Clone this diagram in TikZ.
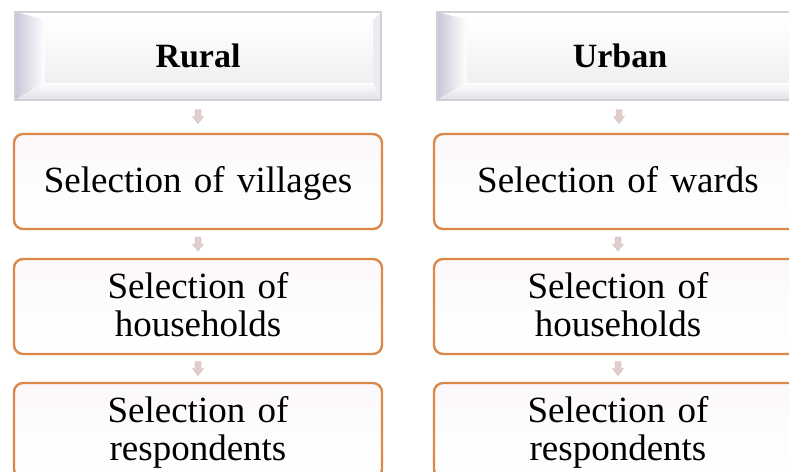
\documentclass[tikz,border=0pt]{standalone}
\usepackage{fontspec}
\setmainfont{Liberation Serif}
\usetikzlibrary{calc}
\definecolor{boxborder}{RGB}{218,136,76}
\definecolor{boxfill}{RGB}{252,248,250}
\definecolor{hdrline}{RGB}{208,208,214}
\definecolor{hdrleft}{RGB}{200,198,215}
\definecolor{hdrbottom}{RGB}{224,224,230}
\definecolor{arrowfill}{RGB}{226,204,204}
\definecolor{arrowline}{RGB}{205,185,185}
\tikzset{
  stagebox/.style={draw=boxborder, line width=2.4pt, rounded corners=9pt,
    top color=boxfill, bottom color=white, minimum width=368pt, minimum height=95pt,
    text width=360pt, align=center, inner sep=0pt,
    font=\fontsize{37}{38}\selectfont},
  stagetext/.style={text width=360pt, align=center, inner sep=0pt, yshift=-3pt,
    font=\fontsize{37}{38}\selectfont},
  hdrbox/.style={minimum width=366pt, minimum height=88pt, inner sep=0pt},
  hdrtext/.style={font=\fontsize{34}{36}\selectfont\bfseries, inner sep=0pt},
  downarrow/.style={fill=arrowfill, draw=arrowline, line width=0.4pt}
}
\newcommand{\mybevel}[1]{%
  \fill[white] (#1.north west) rectangle (#1.south east);
  \shade[left color=hdrleft, right color=white]
    (#1.north west) -- ($(#1.north west)+(30pt,-8pt)$) -- ($(#1.south west)+(30pt,18pt)$) -- (#1.south west) -- cycle;
  \shade[top color=white, bottom color=hdrbottom]
    (#1.south west) -- ($(#1.south west)+(30pt,18pt)$) -- ($(#1.south east)+(-8pt,18pt)$) -- (#1.south east) -- cycle;
  \fill[hdrbottom!60!white]
    (#1.south east) -- ($(#1.south east)+(-8pt,18pt)$) -- ($(#1.north east)+(-8pt,-8pt)$) -- (#1.north east) -- cycle;
  \shade[top color=white, bottom color=hdrbottom!50!white]
    ($(#1.north west)+(30pt,-8pt)$) rectangle ($(#1.south east)+(-8pt,18pt)$);
  \draw[hdrline, line width=1.6pt] (#1.north west) rectangle (#1.south east);
}
\newcommand{\smallarrow}[2]{%
  \coordinate (m) at ($(#1.south)!0.5!(#2.north)$);
  \draw[downarrow] ($(m)+(-3pt,7pt)$) -- ($(m)+(3pt,7pt)$) -- ($(m)+(3pt,0pt)$) -- ($(m)+(5.5pt,0pt)$)
    -- ($(m)+(0pt,-7pt)$) -- ($(m)+(-5.5pt,0pt)$) -- ($(m)+(-3pt,0pt)$) -- cycle;
}
\begin{document}
\begin{tikzpicture}[x=1pt,y=-1pt]
\useasboundingbox (0,0) rectangle (789,471);
\fill[white] (0,0) rectangle (789,471);
\clip (0,0) rectangle (789,471);
% headers
\node[hdrbox] (hL) at (198,56) {};
\node[hdrbox] (hR) at (620,56) {};
\mybevel{hL}
\mybevel{hR}
\node[hdrtext] (tL) at (hL.center) {Rural};
\node[hdrtext] (tR) at (hR.center) {Urban};
% stage boxes
\node[stagebox] (l1) at (198,181.5) {};
\node[stagebox] (l2) at (198,306.5) {};
\node[stagebox] (l3) at (198,430.5) {};
\node[stagebox] (r1) at (618,181.5) {};
\node[stagebox] (r2) at (618,306.5) {};
\node[stagebox] (r3) at (618,430.5) {};
\node[stagetext] (l1t) at (l1.center) {\strut Selection of villages\strut};
\node[stagetext] (l2t) at (l2.center) {\strut Selection of\\\strut households};
\node[stagetext] (l3t) at (l3.center) {\strut Selection of\\\strut respondents};
\node[stagetext] (r1t) at (r1.center) {\strut Selection of wards\strut};
\node[stagetext] (r2t) at (r2.center) {\strut Selection of\\\strut households};
\node[stagetext] (r3t) at (r3.center) {\strut Selection of\\\strut respondents};
% connectors
\smallarrow{hL}{l1}
\smallarrow{l1}{l2}
\smallarrow{l2}{l3}
\smallarrow{hR}{r1}
\smallarrow{r1}{r2}
\smallarrow{r2}{r3}
\end{tikzpicture}
\end{document}
